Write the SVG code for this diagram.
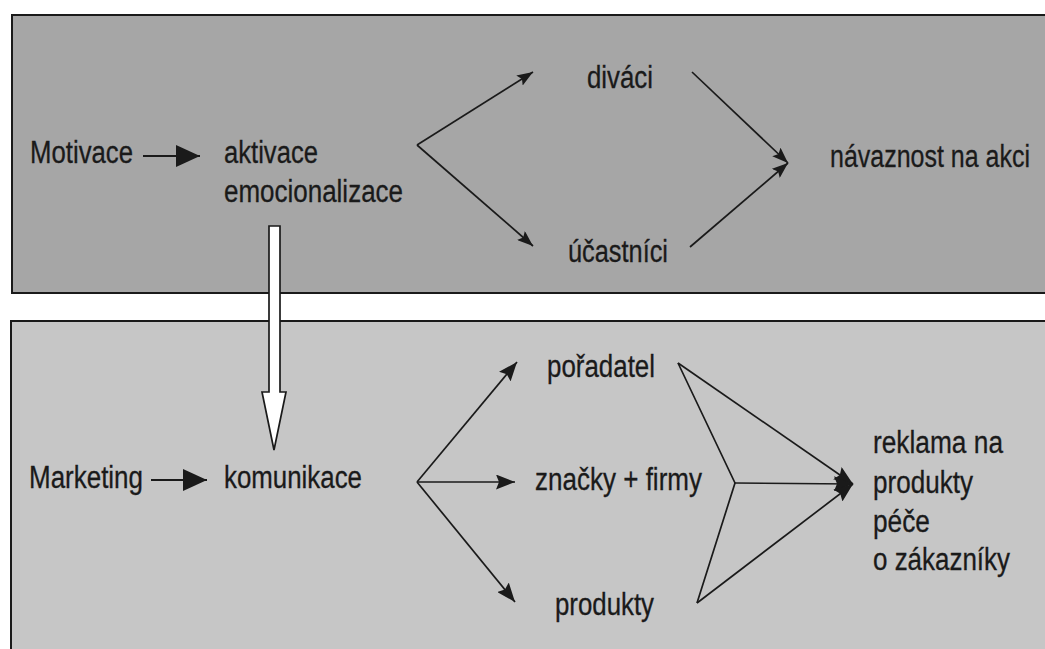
<svg xmlns="http://www.w3.org/2000/svg" width="1045" height="649" viewBox="0 0 1045 649">
<style>
text{font-family:"Liberation Sans",Arial,sans-serif;font-size:31px;fill:#1a1a1a;stroke:#1a1a1a;stroke-width:0.3}
.ln{stroke:#1a1a1a;stroke-width:1.7;fill:none}
.big{stroke:#1a1a1a;stroke-width:2;fill:none}
</style>
<defs>
<marker id="ah" markerUnits="userSpaceOnUse" viewBox="0 0 19 15" refX="19" refY="7.5" markerWidth="19" markerHeight="15" orient="auto"><path d="M0,0 L19,7.5 L0,15 L3,7.5 Z" fill="#1a1a1a"/></marker>
<marker id="ahs" markerUnits="userSpaceOnUse" viewBox="0 0 16 12" refX="16" refY="6" markerWidth="16" markerHeight="12" orient="auto"><path d="M0,0 L16,6 L0,12 L3,6 Z" fill="#1a1a1a"/></marker>
<marker id="ahb" markerUnits="userSpaceOnUse" viewBox="0 0 24 22" refX="24" refY="11" markerWidth="24" markerHeight="22" orient="auto"><path d="M0,0 L24,11 L0,22 Z" fill="#1a1a1a"/></marker>
</defs>
<rect width="1045" height="649" fill="#ffffff"/>
<g id="panel-top"><rect x="12" y="15" width="1045" height="278" fill="#a6a6a6" stroke="#1a1a1a" stroke-width="2"/></g>
<g id="panel-bottom"><rect x="11" y="321" width="1045" height="340" fill="#c6c6c6" stroke="#1a1a1a" stroke-width="2"/></g>
<g id="connectors">
<line class="big" x1="143" y1="156" x2="200" y2="156" marker-end="url(#ahb)"/>
<line class="big" x1="151" y1="480" x2="207" y2="480" marker-end="url(#ahb)"/>
<path d="M269,226 L269,392 L262,392 L274,450 L286,392 L280,392 L280,226 Z" fill="#ffffff" stroke="#1a1a1a" stroke-width="1.7"/>
<line class="ln" x1="417" y1="145" x2="533" y2="72" marker-end="url(#ahs)"/>
<line class="ln" x1="417" y1="145" x2="533" y2="246" marker-end="url(#ahs)"/>
<line class="ln" x1="692" y1="72" x2="788" y2="163" marker-end="url(#ahs)"/>
<line class="ln" x1="690" y1="247" x2="788" y2="163" marker-end="url(#ahs)"/>
<line class="ln" x1="417" y1="482" x2="517" y2="362" marker-end="url(#ah)"/>
<line class="ln" x1="417" y1="482" x2="515" y2="482" marker-end="url(#ah)"/>
<line class="ln" x1="417" y1="482" x2="515" y2="602" marker-end="url(#ah)"/>
<polyline class="ln" points="678,363 735,483 697,603"/>
<line class="ln" x1="678" y1="363" x2="853" y2="484" marker-end="url(#ah)"/>
<line class="ln" x1="735" y1="483" x2="853" y2="484" marker-end="url(#ah)"/>
<line class="ln" x1="697" y1="603" x2="853" y2="484" marker-end="url(#ah)"/>
</g>
<g id="motivace"><text x="30" y="163" textLength="103" lengthAdjust="spacingAndGlyphs">Motivace</text></g>
<g id="aktivace"><text x="224" y="163" textLength="94" lengthAdjust="spacingAndGlyphs">aktivace</text><text x="224" y="202" textLength="179" lengthAdjust="spacingAndGlyphs">emocionalizace</text></g>
<g id="divaci"><text x="587" y="88" textLength="66" lengthAdjust="spacingAndGlyphs">diváci</text></g>
<g id="ucastnici"><text x="568" y="262" textLength="100" lengthAdjust="spacingAndGlyphs">účastníci</text></g>
<g id="navaznost"><text x="830" y="167" textLength="200" lengthAdjust="spacingAndGlyphs">návaznost na akci</text></g>
<g id="marketing"><text x="29" y="488" textLength="114" lengthAdjust="spacingAndGlyphs">Marketing</text></g>
<g id="komunikace"><text x="224" y="488" textLength="138" lengthAdjust="spacingAndGlyphs">komunikace</text></g>
<g id="poradatel"><text x="547" y="377" textLength="108" lengthAdjust="spacingAndGlyphs">pořadatel</text></g>
<g id="znacky"><text x="535" y="490" textLength="167" lengthAdjust="spacingAndGlyphs">značky + firmy</text></g>
<g id="produkty"><text x="555" y="615" textLength="99" lengthAdjust="spacingAndGlyphs">produkty</text></g>
<g id="reklama">
<text x="873" y="453" textLength="130" lengthAdjust="spacingAndGlyphs">reklama na</text>
<text x="873" y="493" textLength="100" lengthAdjust="spacingAndGlyphs">produkty</text>
<text x="873" y="532" textLength="57" lengthAdjust="spacingAndGlyphs">péče</text>
<text x="873" y="570" textLength="137" lengthAdjust="spacingAndGlyphs">o zákazníky</text>
</g>
</svg>
